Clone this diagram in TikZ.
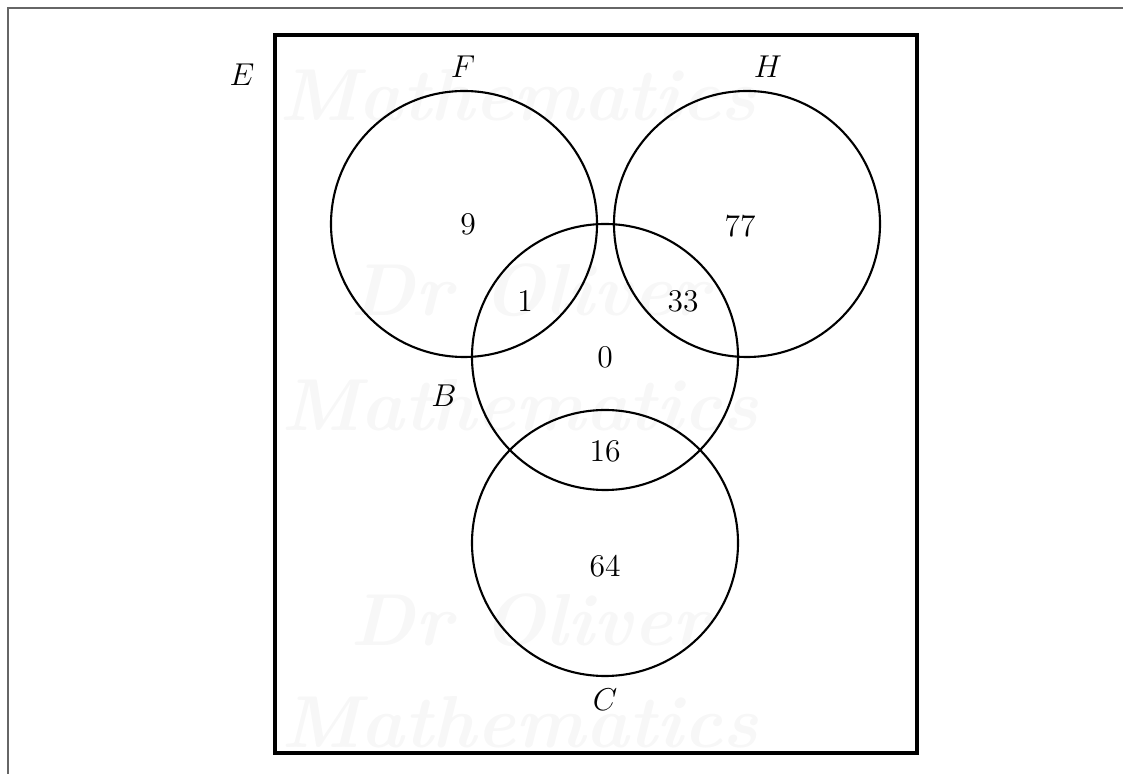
\documentclass[tikz,border=0pt]{standalone}
\begin{document}
\begin{tikzpicture}[x=0.38pt,y=-0.38pt,
  setc/.style={draw,circle,minimum size=101.08pt,inner sep=0pt,line width=0.8pt},
  lbl/.style={inner sep=0pt,font=\large},
  wm/.style={text=black!3,font=\fontsize{28}{28}\selectfont\itshape\bfseries,inner sep=0pt}]
\useasboundingbox (0,0) rectangle (1123,774);
% watermark
\node[wm] (w1) at (518,95) {Mathematics};
\node[wm] (w2) at (530,290) {Dr Oliver};
\node[wm] (w3) at (520,405) {Mathematics};
\node[wm] (w4) at (530,620) {Dr Oliver};
\node[wm] (w5) at (520,722) {Mathematics};
% outer thin frame
\draw[black!60,line width=0.6pt] (1123,8) -- (8,8) -- (8,774);
% universal set
\draw[line width=1.8pt] (275,35) rectangle (917,753);
% circles
\node[setc] (F) at (464,224) {};
\node[setc] (H) at (747,224) {};
\node[setc] (B) at (605,357) {};
\node[setc] (C) at (605,543) {};
% labels
\node[lbl] (lE) at (242,75) {$E$};
\node[lbl] (lF) at (463,67) {$F$};
\node[lbl] (lH) at (768,67) {$H$};
\node[lbl] (lB) at (444,396) {$B$};
\node[lbl] (lC) at (605,700) {$C$};
\node[lbl] (n9) at (468,224) {9};
\node[lbl] (n77) at (740,226) {77};
\node[lbl] (n1) at (525,301) {1};
\node[lbl] (n33) at (683,301) {33};
\node[lbl] (n0) at (605,357) {0};
\node[lbl] (n16) at (605,451) {16};
\node[lbl] (n64) at (605,566) {64};
\end{tikzpicture}
\end{document}
